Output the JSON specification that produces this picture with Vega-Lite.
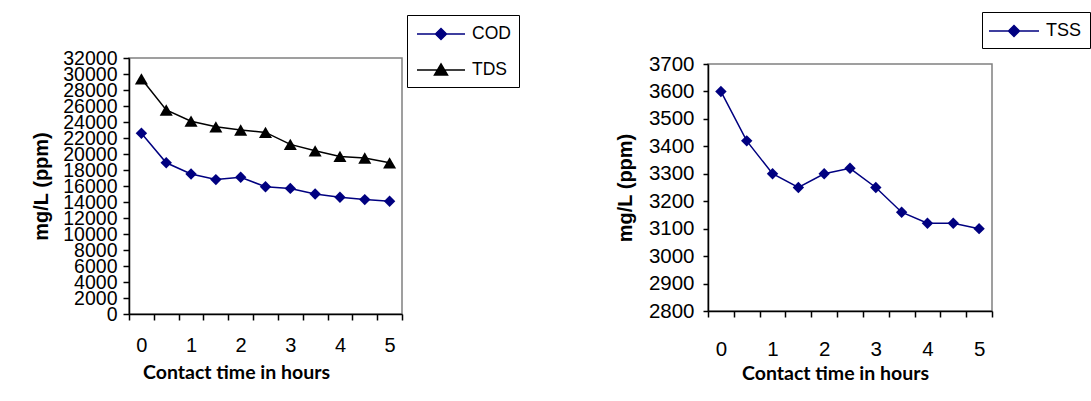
{
  "$schema": "https://vega.github.io/schema/vega-lite/v6.json",
  "background": "white",
  "padding": {"left": 30, "top": 11, "right": 0, "bottom": 0},
  "config": {
    "view": {"stroke": "#808080", "strokeWidth": 1.5},
    "axis": {"domainColor": "black", "domainWidth": 1.5, "tickColor": "black", "tickWidth": 1.5, "grid": false, "labelFont": "Liberation Sans", "labelFontSize": 20, "labelColor": "black", "labelOverlap": false, "labelFlush": false, "titleColor": "black"},
    "legend": {"labelFont": "Liberation Sans", "labelFontSize": 17.5, "labelColor": "black"}
  },
  "data": {"values": [
    {"t": 0, "series": "COD", "value": 22600}, {"t": 0.5, "series": "COD", "value": 18900}, {"t": 1, "series": "COD", "value": 17500}, {"t": 1.5, "series": "COD", "value": 16800}, {"t": 2, "series": "COD", "value": 17100}, {"t": 2.5, "series": "COD", "value": 15900}, {"t": 3, "series": "COD", "value": 15700}, {"t": 3.5, "series": "COD", "value": 15000}, {"t": 4, "series": "COD", "value": 14600}, {"t": 4.5, "series": "COD", "value": 14300}, {"t": 5, "series": "COD", "value": 14100},
    {"t": 0, "series": "TDS", "value": 29400}, {"t": 0.5, "series": "TDS", "value": 25500}, {"t": 1, "series": "TDS", "value": 24100}, {"t": 1.5, "series": "TDS", "value": 23400}, {"t": 2, "series": "TDS", "value": 23000}, {"t": 2.5, "series": "TDS", "value": 22700}, {"t": 3, "series": "TDS", "value": 21200}, {"t": 3.5, "series": "TDS", "value": 20400}, {"t": 4, "series": "TDS", "value": 19700}, {"t": 4.5, "series": "TDS", "value": 19500}, {"t": 5, "series": "TDS", "value": 18900},
    {"t": 0, "series": "TSS", "value": 3600}, {"t": 0.5, "series": "TSS", "value": 3420}, {"t": 1, "series": "TSS", "value": 3300}, {"t": 1.5, "series": "TSS", "value": 3250}, {"t": 2, "series": "TSS", "value": 3300}, {"t": 2.5, "series": "TSS", "value": 3320}, {"t": 3, "series": "TSS", "value": 3250}, {"t": 3.5, "series": "TSS", "value": 3160}, {"t": 4, "series": "TSS", "value": 3120}, {"t": 4.5, "series": "TSS", "value": 3120}, {"t": 5, "series": "TSS", "value": 3100}
  ]},
  "hconcat": [
    {
      "width": 273,
      "height": 256,
      "encoding": {
        "x": {"field": "t", "type": "quantitative", "scale": {"domain": [-0.25, 5.25], "nice": false, "zero": false},
          "axis": {"values": [-0.25, 0.25, 0.75, 1.25, 1.75, 2.25, 2.75, 3.25, 3.75, 4.25, 4.75, 5.25], "labelExpr": "(datum.value + 0.25) % 1 == 0 ? format(datum.value + 0.25, 'd') : ''", "labelOffset": 12.4, "tickSize": 6, "labelPadding": 15, "title": "Contact time in hours", "titleFont": "Lato", "titleFontWeight": "bold", "titleFontSize": 19.5, "titleX": 107, "titleY": 58, "titleBaseline": "middle"}},
        "y": {"field": "value", "type": "quantitative", "scale": {"domain": [0, 32000], "nice": false},
          "axis": {"values": [0, 2000, 4000, 6000, 8000, 10000, 12000, 14000, 16000, 18000, 20000, 22000, 24000, 26000, 28000, 30000, 32000], "format": "d", "tickSize": 6, "labelPadding": 6, "labelFontSize": 19.5, "title": "mg/L (ppm)", "titleFont": "Liberation Sans", "titleFontWeight": "bold", "titleFontSize": 20, "titleX": -88, "titleBaseline": "middle"}}
      },
      "layer": [
        {"transform": [{"filter": "datum.series == 'COD'"}], "mark": {"type": "line", "color": "#000080", "strokeWidth": 1.5}},
        {"transform": [{"filter": "datum.series == 'COD'"}], "mark": {"type": "point", "shape": "diamond", "filled": true, "color": "#000080", "opacity": 1, "size": 130}},
        {"transform": [{"filter": "datum.series == 'TDS'"}], "mark": {"type": "line", "color": "#000000", "strokeWidth": 1.5}},
        {"transform": [{"filter": "datum.series == 'TDS'"}], "mark": {"type": "point", "shape": "triangle-up", "filled": true, "color": "#000000", "opacity": 1, "size": 170}},
        {"transform": [{"filter": "false"}], "mark": {"type": "point", "filled": true, "opacity": 1, "strokeWidth": 1.5},
          "encoding": {
            "color": {"field": "series", "type": "nominal", "scale": {"domain": ["COD", "TDS"], "range": ["#000080", "#000000"]},
              "legend": {"orient": "none", "legendX": 278, "legendY": -43, "title": null, "strokeColor": "black", "fillColor": "white", "padding": 8, "symbolSize": 400, "symbolStrokeWidth": 1.5, "symbolOffset": 15, "labelOffset": 20, "rowPadding": 16}},
            "stroke": {"field": "series", "type": "nominal", "scale": {"domain": ["COD", "TDS"], "range": ["#000080", "#000000"]}},
            "shape": {"field": "series", "type": "nominal", "scale": {"domain": ["COD", "TDS"], "range": ["M-2.4,0H2.4M0,-0.55L0.55,0L0,0.55L-0.55,0Z", "M-2.4,0H2.4M0,-0.6L0.65,0.5L-0.65,0.5Z"]}}
          }}
      ]
    },
    {
      "bounds": "flush",
      "spacing": 5,
      "vconcat": [
        {"width": 284, "height": 1, "view": {"stroke": null}, "transform": [{"filter": "false"}], "mark": {"type": "point"}},
        {
          "width": 284,
          "height": 247,
          "transform": [{"filter": "datum.series == 'TSS'"}],
          "encoding": {
            "x": {"field": "t", "type": "quantitative", "scale": {"domain": [-0.25, 5.25], "nice": false, "zero": false},
              "axis": {"values": [-0.25, 0.25, 0.75, 1.25, 1.75, 2.25, 2.75, 3.25, 3.75, 4.25, 4.75, 5.25], "labelExpr": "(datum.value + 0.25) % 1 == 0 ? format(datum.value + 0.25, 'd') : ''", "labelOffset": 12.9, "tickSize": 6, "labelPadding": 22, "labelFontSize": 20.5, "title": "Contact time in hours", "titleFont": "Lato", "titleFontWeight": "bold", "titleFontSize": 19.5, "titleX": 127, "titleY": 62, "titleBaseline": "middle"}},
            "y": {"field": "value", "type": "quantitative", "scale": {"domain": [2800, 3700], "nice": false, "zero": false},
              "axis": {"values": [2800, 2900, 3000, 3100, 3200, 3300, 3400, 3500, 3600, 3700], "format": "d", "tickSize": 5, "labelPadding": 9, "labelFontSize": 20.5, "title": "mg/L (ppm)", "titleFont": "Liberation Sans", "titleFontWeight": "bold", "titleFontSize": 20, "titleX": -83, "titleBaseline": "middle"}}
          },
          "layer": [
            {"mark": {"type": "line", "color": "#000080", "strokeWidth": 1.5}},
            {"mark": {"type": "point", "shape": "diamond", "filled": true, "color": "#000080", "opacity": 1, "size": 130}},
            {"transform": [{"filter": "false"}], "mark": {"type": "point", "filled": true, "opacity": 1, "strokeWidth": 1.5},
              "encoding": {
                "color": {"field": "series", "type": "nominal", "scale": {"domain": ["TSS"], "range": ["#000080"]},
                  "legend": {"orient": "none", "legendX": 274, "legendY": -46, "title": null, "strokeColor": "black", "fillColor": "white", "padding": 8, "labelFontSize": 18, "symbolSize": 400, "symbolStrokeWidth": 1.5, "symbolOffset": 13, "labelOffset": 21}},
                "stroke": {"field": "series", "type": "nominal", "scale": {"domain": ["TSS"], "range": ["#000080"]}},
                "shape": {"field": "series", "type": "nominal", "scale": {"domain": ["TSS"], "range": ["M-2.5,0H2.5M0,-0.55L0.55,0L0,0.55L-0.55,0Z"]}}
              }}
          ]
        }
      ]
    }
  ],
  "spacing": 306,
  "bounds": "flush",
  "resolve": {"scale": {"color": "independent", "stroke": "independent", "shape": "independent", "x": "independent", "y": "independent"}}
}
